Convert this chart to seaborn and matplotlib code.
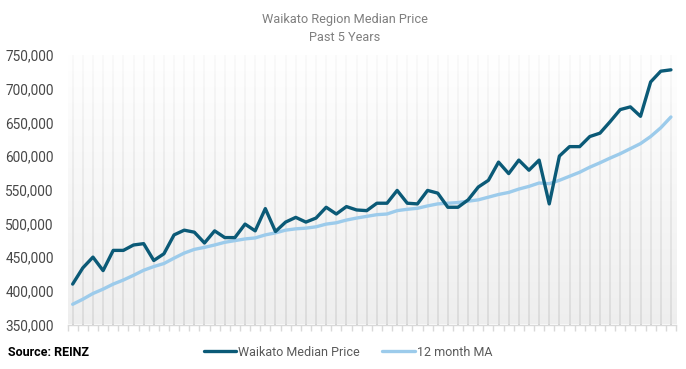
import numpy as np
import pandas as pd
import matplotlib
matplotlib.use("Agg")
import matplotlib.pyplot as plt
import seaborn as sns
from matplotlib.ticker import FuncFormatter, FixedLocator
from matplotlib.lines import Line2D

median_price = [410000, 434000, 450000, 430000, 460000, 460000, 468000, 470000, 445000, 455000,
                483000, 490000, 487000, 471000, 489000, 479000, 479000, 499000, 489000, 522000,
                488000, 502000, 509000, 502000, 508000, 524000, 514000, 525000, 520000, 519000,
                530000, 530000, 549000, 530000, 529000, 549000, 545000, 524000, 524000, 535000,
                554000, 564000, 591000, 574000, 594000, 579000, 594000, 529000, 600000, 614000,
                614000, 629000, 634000, 651000, 669000, 673000, 659000, 710000, 726000, 728000]
moving_avg = [380000, 387500, 396000, 402500, 410000, 416000, 423000, 430500, 436000, 440500,
              448500, 456000, 461500, 464500, 468000, 472000, 474500, 477000, 478500, 483000,
              486000, 490000, 492000, 493000, 495000, 499000, 501000, 505000, 508000, 510500,
              513000, 514000, 519000, 521000, 522500, 526000, 529000, 530000, 531000, 533000,
              535000, 539000, 543000, 546000, 551000, 555000, 560000, 559000, 564000, 570000,
              576000, 583500, 590000, 597000, 603500, 611000, 618500, 629000, 642000, 658000]
series_names = ["Waikato Median Price", "12 month MA"]
title_lines = ["Waikato Region Median Price", "Past 5 Years"]
source_text = "Source: REINZ"
y_ticks = [350000, 400000, 450000, 500000, 550000, 600000, 650000, 700000, 750000]

n = len(median_price)
df = pd.DataFrame({
    "month": list(range(n)) * 2,
    "value": median_price + moving_avg,
    "series": [series_names[0]] * n + [series_names[1]] * n,
})

sns.set_theme(style="white")
plt.rcParams["font.family"] = ["Roboto", "DejaVu Sans"]

W, H = 686, 369
fig = plt.figure(figsize=(W / 100, H / 100), dpi=100)
left, right = 67.6 / W, 676 / W
bottom, top = 1 - 324.5 / H, 1 - 55 / H
ax = fig.add_axes([left, bottom, right - left, top - bottom])
ax.set_axisbelow(True)  # axis (and grid) drawn at zorder 0.5

# base gradient background (white top -> light grey bottom)
t = np.linspace(0, 1, 256).reshape(-1, 1)
base_val = 1.0 - 0.065 * t
base = np.dstack([base_val, base_val, base_val, np.ones_like(base_val)])
ax.imshow(base, extent=[0, 1, 0, 1], transform=ax.transAxes,
          aspect="auto", zorder=0.1, origin="upper")

# overlay that fades the vertical guide lines towards the top
ov_alpha = 0.9 - 0.52 * t
overlay = np.dstack([base_val, base_val, base_val, ov_alpha])
ax.imshow(overlay, extent=[0, 1, 0, 1], transform=ax.transAxes,
          aspect="auto", zorder=1.0, origin="upper")

palette = {series_names[0]: "#0b5a77", series_names[1]: "#9ccbeb"}
sns.lineplot(data=df, x="month", y="value", hue="series", palette=palette,
             hue_order=[series_names[1], series_names[0]],
             linewidth=2.4, ax=ax, legend=False, zorder=3)

ax.set_xlim(-0.5, n - 0.5)
ax.set_ylim(350000, 750000)
ax.set_yticks(y_ticks)
ax.yaxis.set_major_formatter(FuncFormatter(lambda v, p: f"{int(v):,}"))
ax.tick_params(axis="y", length=0, pad=10, labelsize=9.8, labelcolor="#474747")

ax.xaxis.set_major_locator(FixedLocator(list(range(n))))
ax.xaxis.set_minor_locator(FixedLocator([i - 0.5 for i in range(n + 1)]))
ax.tick_params(axis="x", which="major", length=0, labelbottom=False)
ax.tick_params(axis="x", which="minor", length=4, color="#d9d9d9", width=1, bottom=True)
ax.grid(axis="x", which="major", color="#cfcfcf", linewidth=1.3)

for s in ["top", "right", "left"]:
    ax.spines[s].set_visible(False)
ax.spines["bottom"].set_color("#d9d9d9")
ax.spines["bottom"].set_linewidth(1)
ax.spines["bottom"].set_zorder(4)
ax.set_xlabel("")
ax.set_ylabel("")

fig.text(0.5 + 2 / W, 1 - 20 / H, title_lines[0], ha="center", va="center",
         fontsize=9.2, color="#7f7f7f")
fig.text(0.5 + 2 / W, 1 - 37.5 / H, title_lines[1], ha="center", va="center",
         fontsize=9.2, color="#7f7f7f")

fig.text(8 / W, 1 - 353 / H, source_text, ha="left", va="center", fontsize=9,
         fontweight="bold", color="#000000")

handles = [Line2D([0], [0], color=palette[series_names[0]], lw=2.4),
           Line2D([0], [0], color=palette[series_names[1]], lw=2.4)]
leg = fig.legend(handles, series_names, loc="center", bbox_to_anchor=(348 / W, 1 - 352 / H),
                 ncol=2, frameon=False, fontsize=9, handlelength=2.6, handletextpad=0.15,
                 columnspacing=1.8)
for txt in leg.get_texts():
    txt.set_color("#595959")

fig.savefig("out.png", dpi=100)
